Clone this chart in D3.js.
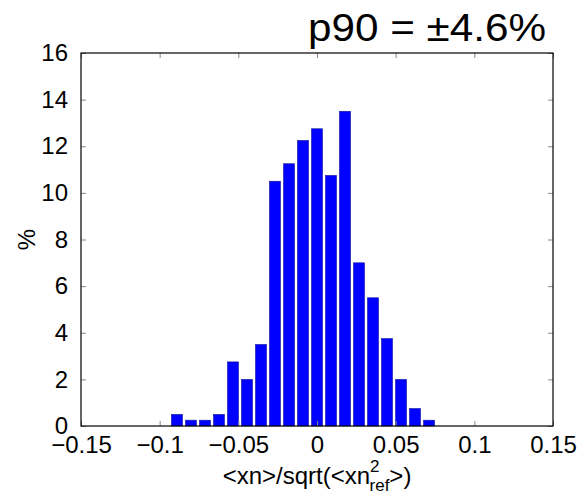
<!DOCTYPE html>
<html>
<head>
<meta charset="utf-8">
<script src="https://cdn.jsdelivr.net/npm/d3@7"></script>
<style>
  body { margin: 0; background: #fff; }
  text { font-family: "Liberation Sans", Arial, sans-serif; fill: #000; }
</style>
</head>
<body>
<script>
const width = 579;
const height = 497;

// bin centres (step ~0.0089) and the percentage in each bin
const binStep = 0.0089;
const binIndex = d3.range(-12, 13);
const percents = [0, 0, 0.5, 0.25, 0.25, 0.5, 2.75, 2, 3.5, 10.5, 11.25, 12.25, 12.75,
                  10.75, 13.5, 7, 5.5, 3.75, 2, 0.75, 0.25, 0, 0, 0, 0];
const xTicks = [-0.15, -0.1, -0.05, 0, 0.05, 0.1, 0.15];
const yTicks = [0, 2, 4, 6, 8, 10, 12, 14, 16];
const title = "p90 = \u00b14.6%";

const margin = { left: 81, right: 26, top: 53, bottom: 71 };

const svg = d3.select("body").append("svg")
  .attr("width", width)
  .attr("height", height);

const x = d3.scaleLinear().domain([-0.15, 0.15]).range([margin.left, width - margin.right]);
const y = d3.scaleLinear().domain([0, 16]).range([height - margin.bottom, margin.top]);

const data = binIndex.map((k, i) => ({ c: k * binStep, v: percents[i] }));
const barW = (x(binStep) - x(0)) * 0.79;

// bars
svg.append("g")
  .selectAll("rect")
  .data(data)
  .join("rect")
  .attr("x", d => x(d.c) - barW / 2)
  .attr("y", d => y(d.v))
  .attr("width", barW)
  .attr("height", d => y(0) - y(d.v))
  .attr("fill", "#0000ff")
  .attr("stroke", "#1a1a9a")
  .attr("stroke-width", 0.6);

const fmt = d => d === 0 ? "0" : String(d).replace("-", "\u2212");

// axes (inward ticks on all four sides)
svg.append("g")
  .attr("transform", `translate(0,${y(0)})`)
  .call(d3.axisBottom(x).tickValues(xTicks).tickSize(-5).tickPadding(10).tickFormat(fmt))
  .call(g => g.select(".domain").remove())
  .call(g => g.selectAll("line").attr("stroke", "#888"))
  .call(g => g.selectAll("text").attr("font-size", 24).attr("font-family", "Liberation Sans, Arial, sans-serif"));

svg.append("g")
  .attr("transform", `translate(0,${y(16)})`)
  .call(d3.axisTop(x).tickValues(xTicks).tickSize(-5).tickFormat(""))
  .call(g => g.select(".domain").remove())
  .call(g => g.selectAll("line").attr("stroke", "#888"));

svg.append("g")
  .attr("transform", `translate(${x(-0.15)},0)`)
  .call(d3.axisLeft(y).tickValues(yTicks).tickSize(-5).tickPadding(13))
  .call(g => g.select(".domain").remove())
  .call(g => g.selectAll("line").attr("stroke", "#888"))
  .call(g => g.selectAll("text").attr("font-size", 24).attr("font-family", "Liberation Sans, Arial, sans-serif"));

svg.append("g")
  .attr("transform", `translate(${x(0.15)},0)`)
  .call(d3.axisRight(y).tickValues(yTicks).tickSize(-5).tickFormat(""))
  .call(g => g.select(".domain").remove())
  .call(g => g.selectAll("line").attr("stroke", "#888"));

// frame
svg.append("rect")
  .attr("x", x(-0.15))
  .attr("y", y(16))
  .attr("width", x(0.15) - x(-0.15))
  .attr("height", y(0) - y(16))
  .attr("fill", "none")
  .attr("stroke", "#000")
  .attr("stroke-width", 1.2);

// title
svg.append("text")
  .attr("x", 308)
  .attr("y", 41)
  .attr("font-size", 38)
  .attr("textLength", 238)
  .attr("lengthAdjust", "spacingAndGlyphs")
  .text(title);

// y label
svg.append("text")
  .attr("transform", `translate(35,${(y(0) + y(16)) / 2}) rotate(-90)`)
  .attr("text-anchor", "middle")
  .attr("font-size", 24)
  .text("%");

// x label with super/subscript
const xl = svg.append("text")
  .attr("x", (x(-0.15) + x(0.15)) / 2)
  .attr("y", 484)
  .attr("text-anchor", "middle")
  .attr("font-size", 24);
xl.append("tspan").text("<xn>/sqrt(<xn");
xl.append("tspan").attr("font-size", 17).attr("dy", -12).text("2");
xl.append("tspan").attr("font-size", 17).attr("dx", -10).attr("dy", 19).text("ref");
xl.append("tspan").attr("dy", -7).text(">)");
</script>
</body>
</html>
